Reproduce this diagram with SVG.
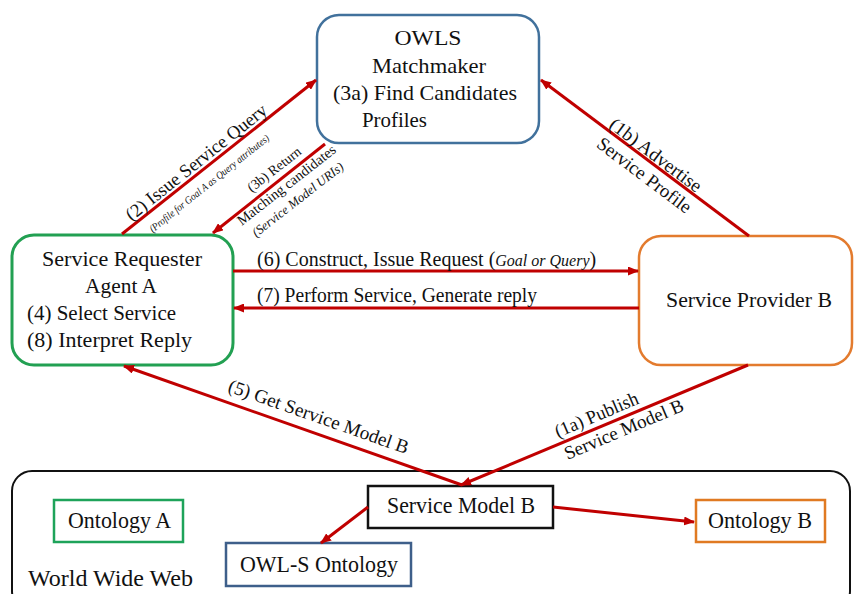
<svg xmlns="http://www.w3.org/2000/svg" width="854" height="594" viewBox="0 0 854 594">
<style>
text{fill:#111;}
.n{font-size:22px;}
.b{font-size:24px;}
.l{font-size:19px;}
.i{font-style:italic;}
.box{fill:#fff;}
.con{stroke:#C00000;stroke-width:3;fill:none;marker-end:url(#ah);}
</style>
<defs>
<marker id="ah" markerUnits="userSpaceOnUse" markerWidth="11" markerHeight="9" refX="10" refY="4.5" orient="auto">
<path d="M0,0 L11,4.5 L0,9 z" fill="#C00000"/>
</marker>
</defs>
<rect width="854" height="594" fill="#fff"/>
<g font-family="'Liberation Serif', 'Times New Roman', serif">

<g id="www">
<rect x="12" y="471" width="838" height="140" rx="20" fill="none" stroke="#111" stroke-width="2"/>
<text class="b" x="28" y="586" textLength="165" lengthAdjust="spacingAndGlyphs">World Wide Web</text>
</g>

<g id="matchmaker">
<rect class="box" x="317" y="15" width="222" height="128" rx="22" stroke="#41719C" stroke-width="2.5"/>
<text class="n" x="428" y="45" text-anchor="middle" textLength="67" lengthAdjust="spacingAndGlyphs">OWLS</text>
<text class="n" x="429" y="73" text-anchor="middle" textLength="114" lengthAdjust="spacingAndGlyphs">Matchmaker</text>
<text class="n" x="333" y="100" textLength="184" lengthAdjust="spacingAndGlyphs">(3a) Find Candidates</text>
<text class="n" x="362" y="127" textLength="65" lengthAdjust="spacingAndGlyphs">Profiles</text>
</g>

<g id="requester">
<rect class="box" x="12" y="235" width="221" height="130" rx="22" stroke="#22A052" stroke-width="3"/>
<text class="n" x="122" y="266" text-anchor="middle" textLength="160" lengthAdjust="spacingAndGlyphs">Service Requester</text>
<text class="n" x="121" y="293" text-anchor="middle" textLength="72" lengthAdjust="spacingAndGlyphs">Agent A</text>
<text class="n" x="27" y="320" textLength="149" lengthAdjust="spacingAndGlyphs">(4) Select Service</text>
<text class="n" x="27" y="347" textLength="165" lengthAdjust="spacingAndGlyphs">(8) Interpret Reply</text>
</g>

<g id="provider">
<rect class="box" x="639" y="236" width="213" height="129" rx="22" stroke="#E37B2E" stroke-width="2.5"/>
<text class="n" x="749" y="307" text-anchor="middle" textLength="166" lengthAdjust="spacingAndGlyphs">Service Provider B</text>
</g>

<g id="ontologyA">
<rect class="box" x="54" y="500" width="129" height="42" stroke="#1EA35A" stroke-width="2.5"/>
<text class="b" x="68" y="528" textLength="103" lengthAdjust="spacingAndGlyphs">Ontology A</text>
</g>

<g id="owlsOntology">
<rect class="box" x="226" y="543" width="185" height="43" stroke="#3E5F8A" stroke-width="2.5"/>
<text class="b" x="240" y="572" textLength="158" lengthAdjust="spacingAndGlyphs">OWL-S Ontology</text>
</g>

<g id="serviceModelB">
<rect class="box" x="368" y="486" width="185" height="42" stroke="#111" stroke-width="2.5"/>
<text class="b" x="387" y="513" textLength="148" lengthAdjust="spacingAndGlyphs">Service Model B</text>
</g>

<g id="ontologyB">
<rect class="box" x="696" y="500" width="129" height="42" stroke="#E07A22" stroke-width="2.5"/>
<text class="b" x="708" y="528" textLength="104" lengthAdjust="spacingAndGlyphs">Ontology B</text>
</g>

<g id="connectors">
<path class="con" d="M122,234 L316,80"/>
<path class="con" d="M325,144 L213,233"/>
<path class="con" d="M749,236 L541,80"/>
<path class="con" d="M233,271 L638,271"/>
<path class="con" d="M639,308 L234,308"/>
<path class="con" d="M462,485 L124,366"/>
<path class="con" d="M748,365 L461,485"/>
<path class="con" d="M368,507 L321,543"/>
<path class="con" d="M553,507 L694,522"/>
</g>

<g id="labels">
<g transform="translate(200,167) rotate(-38.6)">
<text x="0" y="0" text-anchor="middle" font-size="18.5" textLength="175" lengthAdjust="spacingAndGlyphs">(2) Issue Service Query</text>
<text class="i" x="-3" y="22" text-anchor="middle" font-size="10.5" textLength="150" lengthAdjust="spacingAndGlyphs">(Profile for Goal A as Query attributes)</text>
</g>
<g transform="translate(277,173) rotate(-38)">
<text x="0" y="0" text-anchor="middle" font-size="14" textLength="64" lengthAdjust="spacingAndGlyphs">(3b) Return</text>
<text x="0" y="20" text-anchor="middle" font-size="14.5" textLength="121" lengthAdjust="spacingAndGlyphs">Matching candidates</text>
<text class="i" x="0" y="38" text-anchor="middle" font-size="13" textLength="112" lengthAdjust="spacingAndGlyphs">(Service Model URIs)</text>
</g>
<g transform="translate(652,160) rotate(36.9)">
<text class="l" x="0" y="0" text-anchor="middle" textLength="110" lengthAdjust="spacingAndGlyphs">(1b) Advertise</text>
<text class="l" x="3" y="23" text-anchor="middle" textLength="113" lengthAdjust="spacingAndGlyphs">Service Profile</text>
</g>
<g transform="translate(558,438) rotate(-23)">
<text class="l" x="0" y="0" textLength="89" lengthAdjust="spacingAndGlyphs">(1a) Publish</text>
<text class="l" x="0" y="24" textLength="128" lengthAdjust="spacingAndGlyphs">Service Model B</text>
</g>
<g transform="translate(227,391) rotate(19.4)">
<text class="l" x="0" y="0" textLength="190" lengthAdjust="spacingAndGlyphs">(5) Get Service Model B</text>
</g>
<text x="257" y="266" font-size="20">(6) Construct, Issue Request (<tspan class="i" font-size="16">Goal or Query</tspan>)</text>
<text x="257" y="302" font-size="20" textLength="280" lengthAdjust="spacingAndGlyphs">(7) Perform Service, Generate reply</text>
</g>
</g>
</svg>
